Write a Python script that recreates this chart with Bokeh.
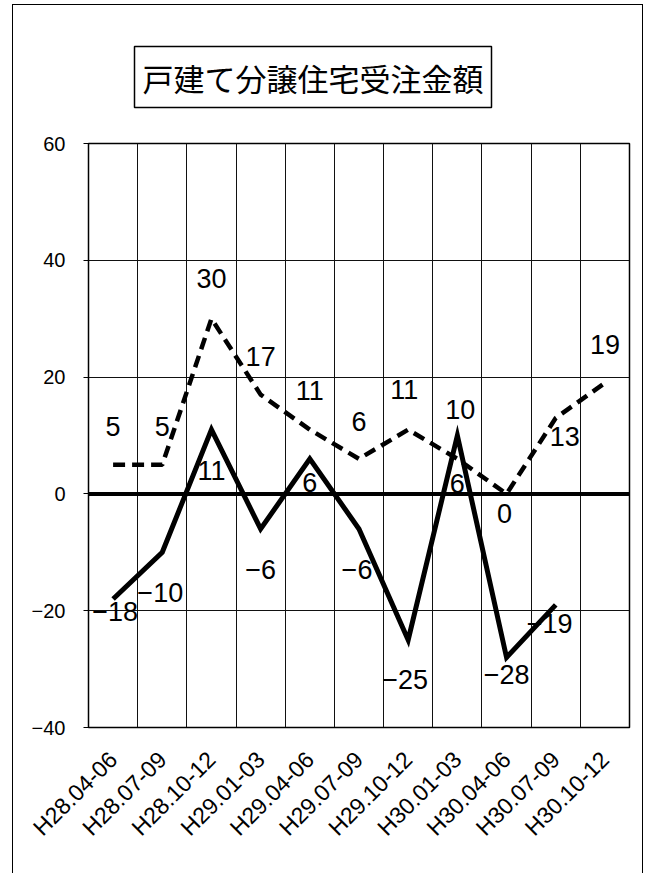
import math
from bokeh.plotting import figure
from bokeh.models import (FactorRange, Range1d, FixedTicker, Span, Title,
                          ColumnDataSource)
from bokeh.embed import file_html
from bokeh.resources import INLINE
from bokeh.core.properties import value

# ---- data ----
quarters = ["H28.04-06", "H28.07-09", "H28.10-12", "H29.01-03", "H29.04-06",
            "H29.07-09", "H29.10-12", "H30.01-03", "H30.04-06", "H30.07-09",
            "H30.10-12"]
dashed_values = [5, 5, 30, 17, 11, 6, 11, 6, 0, 13, 19]
solid_values = [-18, -10, 11, -6, 6, -6, -25, 10, -28, -19]
y_ticks = [-40, -20, 0, 20, 40, 60]
title_text = "戸建て分譲住宅受注金額"

# ---- label placement (style, pixels) ----
dashed_dx = [0, 0, 0, 0, 0, 0, -4, 0, -2, 9, 0]
dashed_dy = [-38, -38, -40, -38, -39, -37, -40, 25, 20, 19, -38]
solid_dx = [2, -2, 0, 0, 0, -2, -3, 3, 0, -6]
solid_dy = [12, 40, 41, 41, 24, 41, 40, -26, 17, 19]

NUM_FONT = "Liberation Sans"


def fmt(v):
    return ("\u2212" + str(-v)) if v < 0 else str(v)


p = figure(width=631, height=869,
           x_range=FactorRange(factors=quarters),
           y_range=Range1d(-40, 60),
           output_backend="svg", toolbar_location=None,
           min_border_left=75, min_border_right=15,
           min_border_top=138, min_border_bottom=147,
           margin=(4, 0, 0, 12),
           styles={"border-left": "1.5px solid black",
                   "border-right": "1.5px solid black",
                   "border-top": "1.5px solid black"})
p.background_fill_color = "white"
p.border_fill_color = "white"
p.outline_line_color = "black"
p.outline_line_width = 1.5

# grids
p.xgrid.ticker = FixedTicker(ticks=list(range(1, len(quarters))))
p.xgrid.grid_line_color = "#111111"
p.xgrid.grid_line_width = 1
p.yaxis.ticker = FixedTicker(ticks=y_ticks)
p.ygrid.grid_line_color = "#111111"
p.ygrid.grid_line_width = 1

# y axis
p.yaxis.major_label_text_font = NUM_FONT
p.yaxis.major_label_text_font_size = "20px"
p.yaxis.major_label_text_color = "black"
p.yaxis.major_tick_out = 5
p.yaxis.major_tick_in = 0
p.yaxis.minor_tick_line_color = None
p.yaxis.major_tick_line_color = "black"
p.yaxis.axis_line_color = "black"
p.yaxis.major_label_standoff = 18

# x axis
p.xaxis.major_label_orientation = math.pi / 4
p.xaxis.major_label_text_font = NUM_FONT
p.xaxis.major_label_text_font_size = "23px"
p.xaxis.major_label_text_color = "black"
p.xaxis.major_tick_out = 0
p.xaxis.major_tick_in = 0
p.xaxis.axis_line_color = "black"
p.xaxis.major_label_standoff = 28

# zero line
p.add_layout(Span(location=0, dimension="width", line_color="black",
                  line_width=4, level="underlay"))

# series
p.line(x=quarters, y=dashed_values, line_color="black", line_width=4.5,
       line_dash="12 7")
p.line(x=quarters[:len(solid_values)], y=solid_values, line_color="black",
       line_width=5, line_join="miter")

# data labels
src_d = ColumnDataSource(dict(x=quarters, y=dashed_values,
                              t=[fmt(v) for v in dashed_values],
                              dx=dashed_dx, dy=dashed_dy))
src_s = ColumnDataSource(dict(x=quarters[:len(solid_values)], y=solid_values,
                              t=[fmt(v) for v in solid_values],
                              dx=solid_dx, dy=solid_dy))
for src in (src_d, src_s):
    p.text(x="x", y="y", text="t", x_offset="dx", y_offset="dy", source=src,
           text_font=value(NUM_FONT), text_font_size="27px",
           text_color="black", text_align="center", text_baseline="middle")

# title box
p.add_layout(Title(text=title_text, text_font="Noto Sans CJK JP",
                   text_font_size="31px", text_color="black",
                   text_font_style="normal",
                   align="left", offset=46, standoff=72,
                   border_line_color="black", border_line_width=1.5,
                   background_fill_color="white", padding=8), "above")

open("out.html", "w").write(file_html(p, INLINE))
